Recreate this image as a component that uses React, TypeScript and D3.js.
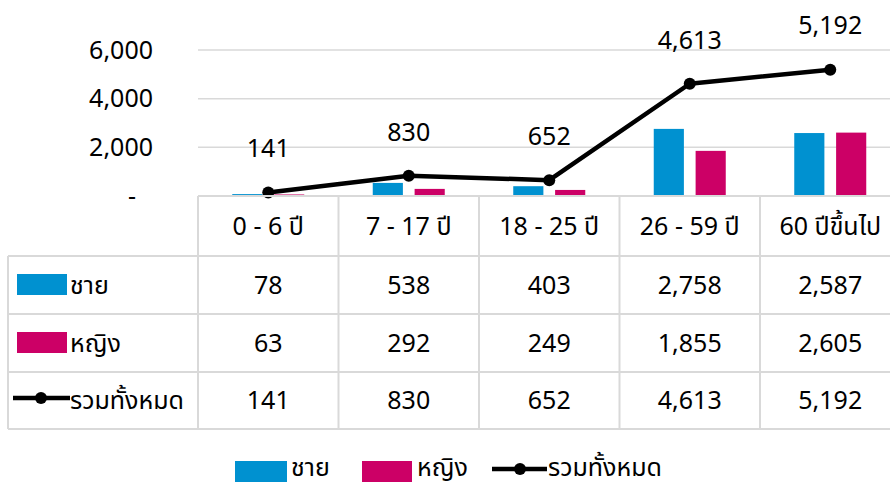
import React from "react";
import * as d3 from "d3";

const categories = ["0 - 6 ปี", "7 - 17 ปี", "18 - 25 ปี", "26 - 59 ปี", "60 ปีขึ้นไป"];
const maleValues = [78, 538, 403, 2758, 2587];
const femaleValues = [63, 292, 249, 1855, 2605];
const totalValues = [141, 830, 652, 4613, 5192];
const yTicks = [0, 2000, 4000, 6000];
const seriesNames = ["ชาย", "หญิง", "รวมทั้งหมด"];

const W = 890;
const H = 482;
const FONT = "'Noto Sans', 'Noto Sans Thai', Tahoma, sans-serif";
const FS = 25;
const BLUE = "#0091D0";
const PINK = "#CC0066";
const GRID = "#D9D9D9";

export default function App() {
  const plotLeft = 198;
  const colW = 140.5;
  const x = d3
    .scaleBand<string>()
    .domain(categories)
    .range([plotLeft, plotLeft + colW * categories.length])
    .padding(0);
  const y = d3.scaleLinear().domain([0, 6000]).range([196, 50]);
  const sub = d3
    .scaleBand<string>()
    .domain(["m", "f"])
    .range([-36, 36])
    .paddingInner(0.28)
    .paddingOuter(0);
  const cx = (c: string) => (x(c) as number) + x.bandwidth() / 2;
  const fmt = d3.format(",");

  const line = d3
    .line<number>()
    .x((_, i) => cx(categories[i]))
    .y((d) => y(d));

  const tableTop = 196;
  const headerBottom = 256;
  const rowBottoms = [314, 372, 429];
  const rowCenters = [285, 343, 400];
  const tableLeft = 8;
  const tableRight = plotLeft + colW * categories.length;

  const rows = [maleValues, femaleValues, totalValues];
  const legendY = 467;

  return (
    <svg
      width={W}
      height={H}
      style={{ position: "absolute", left: 0, top: 0 }}
      fontFamily={FONT}
    >
      <rect width={W} height={H} fill="#fff" />
      {/* gridlines */}
      {yTicks.map((t) =>
        t === 0 ? null : (
          <line key={t} x1={plotLeft} x2={W} y1={y(t)} y2={y(t)} stroke={GRID} strokeWidth={1.5} />
        )
      )}
      {/* y tick labels */}
      {yTicks.map((t) => (
        <text
          key={"yt" + t}
          x={t === 0 ? 132 : 153}
          y={y(t)}
          dy="0.35em"
          fontSize={FS}
          textAnchor={t === 0 ? "middle" : "end"}
          fill="#000"
        >
          {t === 0 ? "-" : fmt(t)}
        </text>
      ))}
      {/* bars */}
      {categories.map((c, i) => (
        <g key={"b" + c}>
          <rect
            x={cx(c) + (sub("m") as number)}
            y={y(maleValues[i])}
            width={sub.bandwidth()}
            height={y(0) - y(maleValues[i])}
            fill={BLUE}
          />
          <rect
            x={cx(c) + (sub("f") as number)}
            y={y(femaleValues[i])}
            width={sub.bandwidth()}
            height={y(0) - y(femaleValues[i])}
            fill={PINK}
          />
        </g>
      ))}
      {/* total line */}
      <path d={line(totalValues) || ""} fill="none" stroke="#000" strokeWidth={4.5} strokeLinejoin="round" />
      {totalValues.map((v, i) => (
        <circle key={"p" + i} cx={cx(categories[i])} cy={y(v)} r={6} fill="#000" />
      ))}
      {totalValues.map((v, i) => (
        <text
          key={"l" + i}
          x={cx(categories[i])}
          y={y(v) - 44}
          dy="0.35em"
          fontSize={FS}
          textAnchor="middle"
          fill="#000"
        >
          {fmt(v)}
        </text>
      ))}
      {/* data table */}
      <g stroke={GRID} strokeWidth={2} fill="none">
        <line x1={plotLeft} x2={tableRight} y1={tableTop} y2={tableTop} />
        <line x1={tableLeft} x2={tableRight} y1={headerBottom} y2={headerBottom} />
        {rowBottoms.map((b) => (
          <line key={"rb" + b} x1={tableLeft} x2={tableRight} y1={b} y2={b} />
        ))}
        <line x1={tableLeft} x2={tableLeft} y1={headerBottom} y2={rowBottoms[2]} />
        {categories.map((c) => (
          <line key={"vl" + c} x1={x(c) as number} x2={x(c) as number} y1={tableTop} y2={rowBottoms[2]} />
        ))}
        <line x1={tableRight} x2={tableRight} y1={tableTop} y2={rowBottoms[2]} />
      </g>
      {categories.map((c) => (
        <text key={"h" + c} x={cx(c)} y={226} dy="0.35em" fontSize={FS} textAnchor="middle" fill="#000">
          {c}
        </text>
      ))}
      {rows.map((r, ri) =>
        r.map((v, ci) => (
          <text
            key={"c" + ri + "-" + ci}
            x={cx(categories[ci])}
            y={rowCenters[ri]}
            dy="0.35em"
            fontSize={FS}
            textAnchor="middle"
            fill="#000"
          >
            {fmt(v)}
          </text>
        ))
      )}
      {/* row keys */}
      <rect x={17} y={rowCenters[0] - 11} width={50} height={21} fill={BLUE} />
      <rect x={17} y={rowCenters[1] - 11} width={50} height={21} fill={PINK} />
      <line x1={13} x2={70} y1={rowCenters[2] - 2} y2={rowCenters[2] - 2} stroke="#000" strokeWidth={4.5} />
      <circle cx={41} cy={rowCenters[2] - 2} r={6} fill="#000" />
      {seriesNames.map((s, i) => (
        <text key={"rk" + s} x={70} y={rowCenters[i]} dy="0.35em" fontSize={FS} fill="#000">
          {s}
        </text>
      ))}
      {/* legend */}
      <rect x={235} y={legendY - 6} width={52} height={21} fill={BLUE} />
      <text x={291} y={legendY} dy="0.35em" fontSize={FS} fill="#000">{seriesNames[0]}</text>
      <rect x={362} y={legendY - 6} width={50} height={21} fill={PINK} />
      <text x={417} y={legendY} dy="0.35em" fontSize={FS} fill="#000">{seriesNames[1]}</text>
      <line x1={492} x2={547} y1={legendY + 2} y2={legendY + 2} stroke="#000" strokeWidth={4.5} />
      <circle cx={520} cy={legendY + 2} r={6} fill="#000" />
      <text x={548} y={legendY} dy="0.35em" fontSize={FS} fill="#000">{seriesNames[2]}</text>
    </svg>
  );
}
